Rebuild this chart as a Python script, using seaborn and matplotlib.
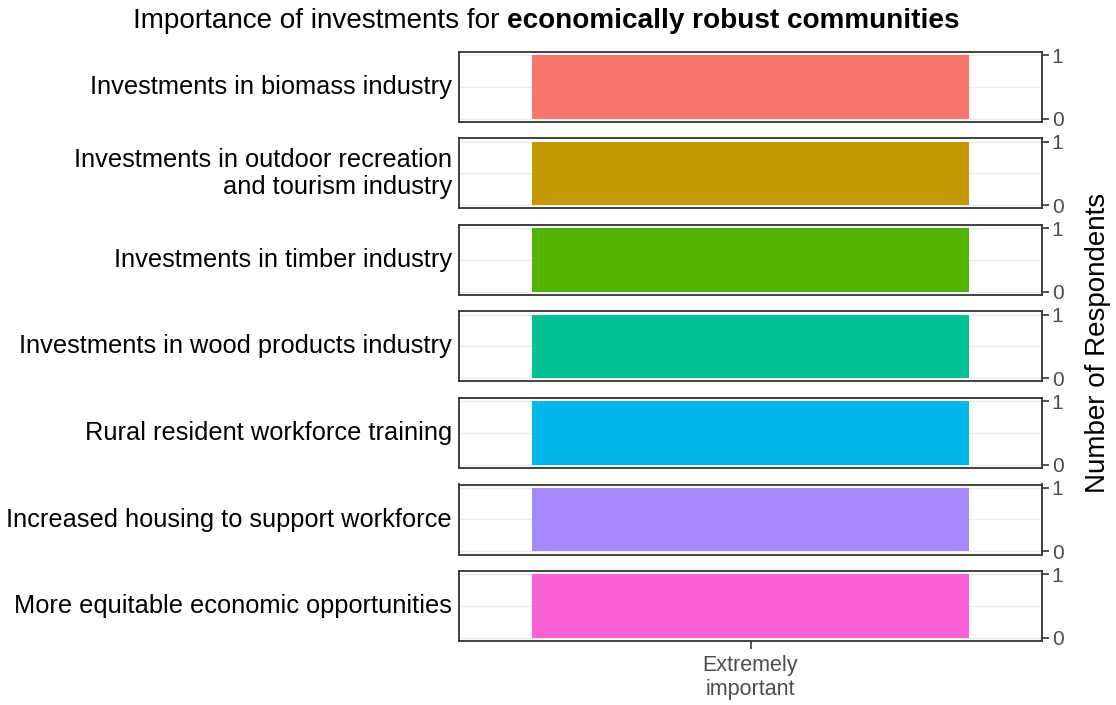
import matplotlib
matplotlib.use("Agg")
import matplotlib.pyplot as plt
import seaborn as sns
import pandas as pd

# data
items = [
    "Investments in biomass industry",
    "Investments in outdoor recreation\nand tourism industry",
    "Investments in timber industry",
    "Investments in wood products industry",
    "Rural resident workforce training",
    "Increased housing to support workforce",
    "More equitable economic opportunities",
]
responses = ["Extremely\nimportant"] * 7
counts = [1, 1, 1, 1, 1, 1, 1]
colors = ["#F8766D", "#C49A00", "#53B400", "#00C094", "#00B6EB", "#A58AFF", "#FB61D7"]

sns.set_style("white")
plt.rcParams['font.family'] = ['Liberation Sans', 'DejaVu Sans']

W, H = 1116, 705
fig = plt.figure(figsize=(W / 100, H / 100), dpi=100)

left, right = 459, 1042
top0, step, ph = 52, 86.5, 70

for i, (item, resp, n, col) in enumerate(zip(items, responses, counts, colors)):
    y_top = top0 + i * step
    ax = fig.add_axes([left / W, 1 - (y_top + ph) / H, (right - left) / W, ph / H])
    df = pd.DataFrame({"resp": [resp], "n": [n]})
    sns.barplot(data=df, x="resp", y="n", color=col, width=0.9, ax=ax,
                saturation=1, edgecolor="none")
    ax.set_xlim(-0.6, 0.6)
    ax.set_ylim(-0.05, 1.05)
    ax.set_yticks([0, 1])
    ax.set_yticks([0.5], minor=True)
    ax.yaxis.tick_right()
    ax.grid(axis="y", which="both", color="#EBEBEB", lw=1)
    ax.set_axisbelow(True)
    ax.tick_params(axis="y", which="major", length=5, width=1.2, color="#333333",
                   labelsize=15, labelcolor="#4D4D4D", pad=2)
    ax.tick_params(axis="y", which="minor", length=0)
    ax.set_xlabel("")
    ax.set_ylabel("")
    for s in ax.spines.values():
        s.set_color("#333333")
        s.set_linewidth(1.3)
    if i == len(items) - 1:
        ax.tick_params(axis="x", bottom=True, length=6, width=1.2, color="#333333",
                       labelsize=15.5, labelcolor="#4D4D4D", pad=4)
    else:
        ax.set_xticks([])
    ax.text(-0.012, 0.5, item, transform=ax.transAxes, ha="right", va="center",
            fontsize=18.3, color="black", linespacing=1.15, multialignment="right")

t1 = fig.text(133 / W, 1 - 21 / H, "Importance of investments for", ha="left",
              va="center", fontsize=20.1, color="black")
fig.canvas.draw()
bb = t1.get_window_extent()
fig.text((bb.x1 + 8) / W, 1 - 21 / H, "economically robust communities", ha="left",
         va="center", fontsize=20.1, fontweight="bold", color="black")

fig.text(1098 / W, 1 - 343 / H, "Number of Respondents", rotation=90, ha="center",
         va="center", fontsize=20, color="black")

fig.savefig("out.png", dpi=100)
